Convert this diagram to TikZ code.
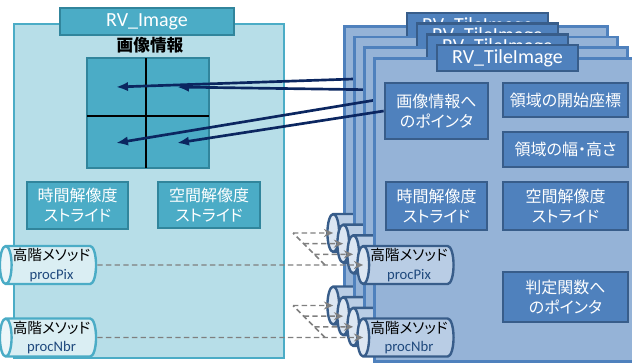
\documentclass[tikz,border=0pt]{standalone}
\usepackage{fontspec}
\setmainfont{Carlito}
\newfontfamily\jp[RawFeature=+palt]{Noto Sans CJK JP}
\usetikzlibrary{arrows.meta, shapes.geometric, calc}

\definecolor{img_fill}{HTML}{B7DEE8}
\definecolor{img_line}{HTML}{4BACC6}
\definecolor{img_dark}{HTML}{31859C}
\definecolor{img_pale}{HTML}{DAEEF3}
\definecolor{tile_fill}{HTML}{95B3D7}
\definecolor{tile_line}{HTML}{4F81BD}
\definecolor{tile_dark}{HTML}{385D8A}
\definecolor{tile_pale}{HTML}{B9CDE5}
\definecolor{tile_end}{HTML}{DCE6F2}
\definecolor{ptr_navy}{HTML}{0B2660}
\definecolor{proc_gray}{HTML}{7F7F7F}
\definecolor{proc_text}{HTML}{1F497D}

% one unit of the picture
\newdimen\px \px=0.75pt

\begin{document}
\begin{tikzpicture}[x=0.75pt, y=-0.75pt,
    sized/.style 2 args={minimum width=#1\px, minimum height=#2\px},
    panel/.style={draw, line width=2pt, inner sep=0pt},
    imgpanel/.style={panel, fill=img_fill, draw=img_line},
    tilepanel/.style={panel, fill=tile_fill, draw=tile_line},
    nametab/.style={draw, line width=2pt, text=white, inner sep=0pt,
        font=\fontsize{15}{18}\selectfont},
    imgtab/.style={nametab, fill=img_line, draw=img_dark},
    tiletab/.style={nametab, fill=tile_line, draw=tile_dark},
    field/.style={draw, line width=2pt, text=white, align=center, inner sep=0pt,
        font=\jp\fontsize{12}{15}\selectfont},
    imgfield/.style={field, fill=img_line, draw=img_dark},
    tilefield/.style={field, fill=tile_line, draw=tile_dark},
    % cylinder: minimum height runs along its axis
    proc/.style={cylinder, shape border rotate=180, aspect=0.35, line width=1.8pt,
        cylinder uses custom fill, align=center, inner sep=0pt, sized={38}{91},
        font=\fontsize{11}{14}\selectfont},
    imgproc/.style={proc, draw=img_line, cylinder body fill=img_pale,
        cylinder end fill=img_pale!50!white},
    tileproc/.style={proc, draw=tile_dark, cylinder body fill=tile_pale,
        cylinder end fill=tile_end},
    ptr/.style={draw=ptr_navy, line width=2pt, -{Latex[length=9pt, width=7pt]}},
    procline/.style={draw=proc_gray, line width=1.1pt, dash pattern=on 4pt off 2.5pt,
        -{Stealth[length=7pt, width=6pt]}},
]
\useasboundingbox (0,0) rectangle (632,362);

% ---- RV_Image ----
\node[imgpanel, sized={270}{334}] (img) at (149,191) {};
\node[imgtab, sized={174}{27}] (imgtab) at (147,21.5) {RV\_Image};
\node[font=\jp\bfseries\fontsize{12.5}{15}\selectfont] (imglabel) at (150,45) {画像情報};

% pixel area, split in four
\node[imgfield, sized={122}{110}] (grid) at (148,113) {};
\draw[line width=2.2pt] (146,58) -- (146,168);
\draw[line width=2.2pt] (87,116) -- (209,116);
\coordinate (tl) at (116,87);
\coordinate (tr) at (177,87);
\coordinate (bl) at (116,143);
\coordinate (br) at (177,143);

\node[imgfield, sized={101}{47}] (imgtime) at (77.5,205.5) {時間解像度\\ストライド};
\node[imgfield, sized={102}{46}] (imgspace) at (209,205) {空間解像度\\ストライド};

\node[imgproc] (lpix) at (51.5,265)
    {{\jp 高階メソッド}\\{\color{proc_text}procPix}};
\node[imgproc] (lnbr) at (51.5,337.5)
    {{\jp 高階メソッド}\\{\color{proc_text}procNbr}};

% ---- RV_TileImage, four layers (only the front one shows its labels) ----
\foreach \i/\q in {0/tl, 1/tr, 2/bl, 3/br} {
  \ifnum\i=3
    \def\ptrtext{画像情報へ\\のポインタ}%
    \def\pixtext{{\jp 高階メソッド}\\{\color{proc_text}procPix}}%
    \def\nbrtext{{\jp 高階メソッド}\\{\color{proc_text}procNbr}}%
  \else
    \def\ptrtext{}%
    \def\pixtext{\phantom{\jp 高階メソッド}\\\phantom{procPix}}%
    \def\nbrtext{\phantom{\jp 高階メソッド}\\\phantom{procNbr}}%
  \fi
  \begin{scope}[shift={({-10*(3-\i)},{-10.67*(3-\i)})}]
    \node[tilepanel, sized={263}{303}, anchor=north west] (tile\i) at (373,57) {};
    \node[tiletab, sized={141}{26}] (tiletab\i) at (507.5,58) {RV\_TileImage};
    \node[tilefield, sized={103}{56}] (ptr\i) at (436.5,111) {\ptrtext};
    \node[tileproc] (pix\i) at (409,265) {\pixtext};
    \node[tileproc] (nbr\i) at (409,337.5) {\nbrtext};
  \end{scope}
  \draw[ptr] (ptr\i.west) -- (\q);
}

\node[tilefield, sized={125}{34}] (origin) at (565.5,100) {領域の開始座標};
\node[tilefield, sized={125}{35}] (extent) at (565.5,149.5) {領域の幅・高さ};
\node[tilefield, sized={101}{48}] (time) at (436.5,206) {時間解像度\\ストライド};
\node[tilefield, sized={125}{48}] (space) at (565.5,206) {空間解像度\\ストライド};
\node[tilefield, sized={125}{50}] (judge) at (565.5,297) {判定関数へ\\のポインタ};

% ---- calls to the higher-order methods ----
\coordinate (pixfork) at (325,265);
\coordinate (pixtop) at (293,233);
\coordinate (nbrfork) at (325,337.5);
\coordinate (nbrtop) at (293,305.5);
\draw[procline] (lpix.east) -- ($(pix3.west)+(7,0)$);
\draw[procline] (lnbr.east) -- ($(nbr3.west)+(7,0)$);
\draw[procline, -] (pixfork) -- (pixtop);
\draw[procline, -] (nbrfork) -- (nbrtop);
\foreach \i in {0,1,2} {
  \draw[procline] ($(pixtop)!{\i/3}!(pixfork)$) -- ($(pix\i.west)+(7,0)$);
  \draw[procline] ($(nbrtop)!{\i/3}!(nbrfork)$) -- ($(nbr\i.west)+(7,0)$);
}

\end{tikzpicture}
\end{document}
